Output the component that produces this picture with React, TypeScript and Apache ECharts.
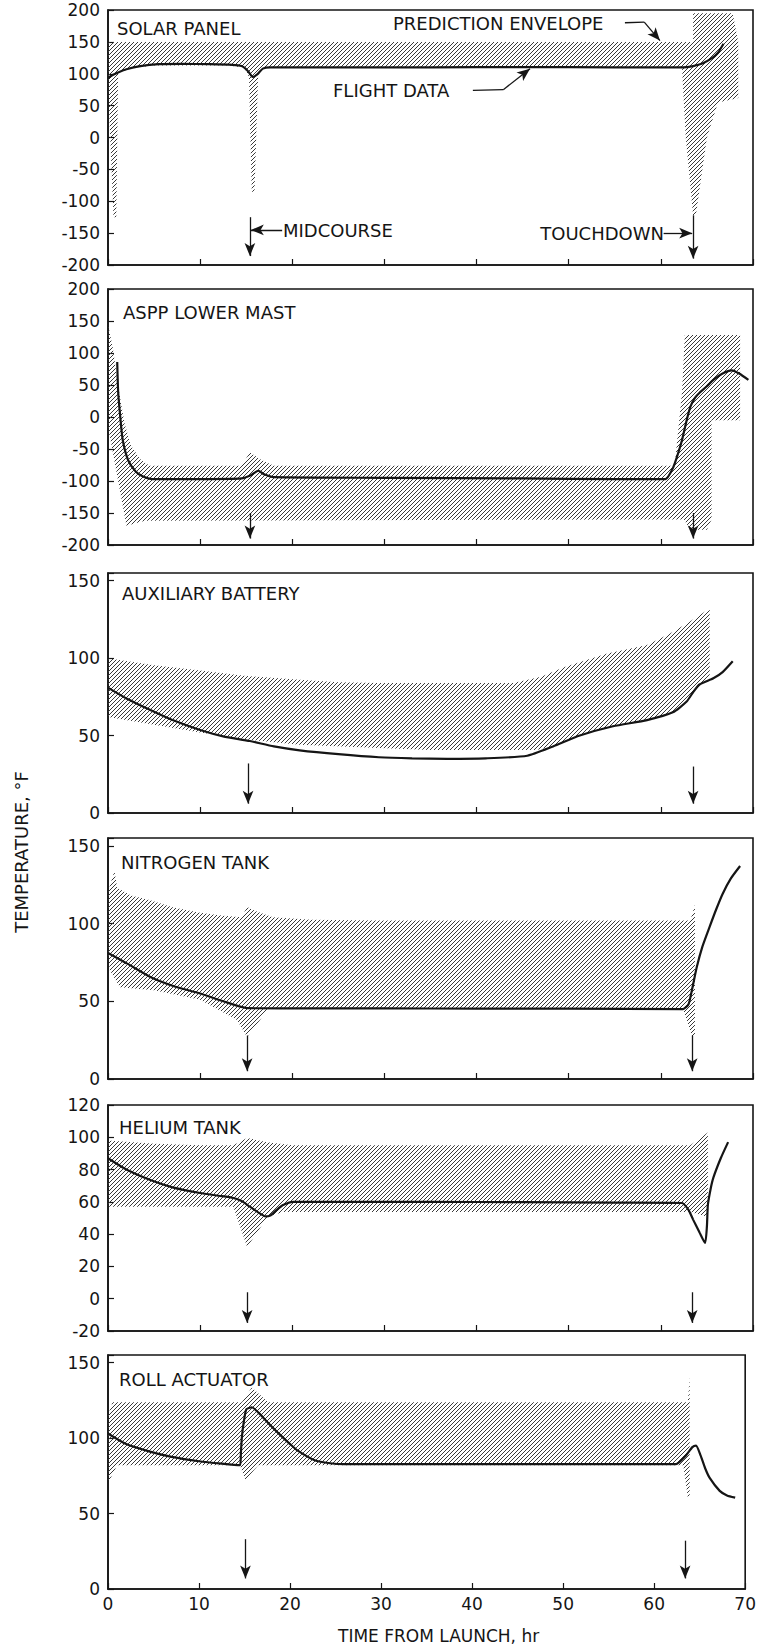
import React, { useEffect, useRef } from 'react';
import * as echarts from 'echarts';

// ---------------- DATA ----------------
const panelTitles = ['SOLAR PANEL', 'ASPP LOWER MAST', 'AUXILIARY BATTERY', 'NITROGEN TANK', 'HELIUM TANK', 'ROLL ACTUATOR'];
const yMins = [-200, -200, 0, 0, -20, 0];
const yMaxs = [200, 200, 155, 155, 120, 155];
const yIntervals = [50, 50, 50, 50, 20, 50];
const xAxisTitle = 'TIME FROM LAUNCH, hr';
const yAxisTitle = 'TEMPERATURE, °F';

// flight data [hr, °F]
const solarFlight = [[0, 93], [0.5, 98], [1.1, 102], [2, 107], [3.5, 112], [5.5, 115], [8, 115.5], [11, 115], [13.5, 114], [14.5, 112], [15.2, 104], [15.7, 95], [16.2, 99], [16.8, 108], [17.6, 110], [25, 110], [35, 110], [45, 110.5], [55, 110], [62.4, 110], [63.5, 112], [64.5, 116], [65.5, 124], [66.2, 133], [66.8, 147]];
const asppFlight = [[1.0, 86], [1.1, 40], [1.3, 5], [1.6, -36], [2.2, -68], [3, -85], [3.8, -93], [4.8, -97], [10, -97], [14.5, -96], [15.5, -91], [16.3, -84], [17, -90], [18, -94], [30, -95], [45, -96], [55, -97], [60.5, -97], [61.3, -80], [61.8, -60], [62.3, -36], [62.8, -5], [63.2, 16], [63.7, 30], [64.2, 38], [65, 48], [65.7, 58], [66.7, 68], [67.7, 73], [68.5, 68], [69.5, 58]];
const auxFlight = [[0, 81], [2, 74], [4.6, 66.5], [7, 60], [10, 53.6], [12.5, 49.5], [15.4, 46.5], [18, 43], [20.8, 40.5], [25, 38], [29.4, 36], [33, 35.3], [36.8, 35], [41, 35.3], [45.5, 37], [48.3, 43], [51.2, 50], [54.8, 56], [58.5, 60], [61.3, 65], [62.8, 72], [63.5, 78], [64.2, 83], [65.7, 87], [66.7, 91], [67.8, 98]];
const nitroFlight = [[0, 81], [2, 74.5], [4.6, 65.6], [7, 60], [10, 55], [12.5, 50], [15.1, 45.6], [20, 45.4], [30, 45.4], [40, 45.3], [50, 45.2], [62.4, 45], [63, 48], [63.4, 58], [63.9, 72], [64.5, 85], [65.3, 98], [66, 109], [66.7, 119], [67.6, 129], [68.6, 137]];
const heliumFlight = [[0, 87], [2, 80], [4.6, 73.5], [7, 69], [10, 65.5], [12, 63.8], [13.6, 62.4], [14.5, 60.5], [15.4, 57], [16.3, 53.5], [17.1, 51], [17.6, 51.5], [18.3, 55], [19, 58], [20.1, 60], [25, 60], [35, 60], [45, 59.8], [55, 59.5], [62.3, 59.3], [63, 55], [63.5, 49], [64.2, 41], [64.8, 34.5], [65, 45], [65.1, 58], [65.4, 68], [65.7, 75], [66.5, 87], [67.3, 97]];
const rollFlight = [[0, 103], [2, 96], [4.6, 91], [7, 87.5], [10, 84.6], [12.5, 83], [14.5, 82], [14.6, 90], [14.7, 100], [14.9, 110], [15.2, 119], [15.8, 120.4], [16.5, 117], [17.2, 112.6], [18, 107.5], [19, 101.6], [20, 96], [20.8, 91.8], [22.7, 85.3], [24.4, 83.3], [26, 82.7], [40, 82.7], [55, 82.7], [62.4, 82.7], [63.5, 88.5], [64.2, 94], [64.6, 95], [65.1, 88.5], [65.6, 80], [66.1, 73.6], [67.2, 65], [68, 62], [68.9, 60.5]];

// prediction envelopes: outline vertices [hr, °F]
const solarEnvelope = [[0, 150], [63.5, 150], [63.5, 195], [67.8, 195], [68.4, 150], [68.4, 62], [66.2, 55], [65, 0], [63.8, -122], [63.5, -122], [62.7, 0], [62.4, 80], [62.3, 110], [17, 110], [16.3, 100], [15.9, -85], [15.6, -85], [15.3, 95], [14.8, 110], [13, 113], [5, 113], [2, 108], [1.1, 102], [0.9, -125], [0.6, -125], [0, 85]];
const asppEnvelope = [[0, 145], [0.5, 110], [1.2, 40], [1.8, -10], [2.5, -45], [3.5, -66], [4.5, -76], [14.5, -76], [15.4, -55], [16.5, -66], [18, -76], [61.5, -76], [62.3, 40], [62.6, 128], [68.6, 128], [68.6, -5], [65.5, -5], [65.5, -160], [65, -176], [63.2, -176], [62.5, -160], [4, -162], [2, -170], [0.2, -30], [0, -20]];
const auxEnvelope = [[0, 100], [5, 95.5], [10, 92], [15, 88.5], [20.8, 86], [25, 84.5], [29.4, 84], [44, 84], [47, 88], [49.4, 94], [52, 99], [54.2, 103], [58.5, 108.5], [61, 116], [63, 123], [65.3, 132], [65.3, 88], [64.2, 83], [62.8, 72], [61.3, 65], [58.5, 60], [54.8, 56], [51.2, 50], [48.3, 43], [46.5, 40.7], [35, 40.7], [29.4, 42], [20.8, 44], [15, 47.5], [10, 52], [5, 57], [0, 62]];
const nitroEnvelope = [[0, 120], [0.7, 134], [1, 123], [2.5, 118], [4.6, 115], [7, 110.5], [10, 107], [12.5, 105], [14.5, 104], [15.1, 110.6], [16, 108], [17.9, 104], [22, 102.5], [29.4, 102], [63.2, 102], [63.7, 112], [63.7, 27], [63.4, 27], [62.4, 45], [17.3, 45], [16.5, 38], [15.1, 27], [14, 38], [10, 51], [5, 57], [1.3, 59], [0.2, 70], [0, 80]];
const heliumEnvelope = [[0, 98], [5, 96], [10, 95], [13.6, 95], [15.1, 99.5], [17.3, 97], [20, 95], [63.2, 95], [65.1, 103], [65.1, 50.6], [63.2, 53.7], [19, 53.7], [17.3, 50.6], [15.1, 32], [14.5, 42], [13.6, 57], [0, 57]];
const rollEnvelope = [[0, 115], [0.5, 123.7], [14.7, 123.7], [15.8, 133.4], [17.6, 123.7], [63.7, 123.7], [63.9, 140.6], [63.9, 60.5], [63.7, 60.5], [63.2, 82], [16.5, 82], [15.1, 72], [14.5, 82], [1, 82], [0, 70]];

// event arrows [hr, from °F, to °F]
const solarArrows = [[15.4, -125, -186], [63.5, -122, -190]];
const asppArrows = [[15.4, -150, -190], [63.5, -150, -190]];
const auxArrows = [[15.2, 32, 6], [63.5, 30, 6]];
const nitroArrows = [[15.1, 28, 5], [63.4, 28, 5]];
const heliumArrows = [[15.1, 4, -15], [63.4, 4, -15]];
const rollArrows = [[15.1, 33, 7], [63.4, 32, 7]];

// annotation pointers in the top panel [x1, y1, x2, y2, arrowhead]
const solarPointers = [
  [18.9, -145, 15.5, -145, 1],
  [60.3, -150, 63.4, -150, 1],
  [56.1, 180, 58.2, 181, 0],
  [58.2, 181, 59.9, 152, 1],
  [39.6, 74, 42.9, 75, 0],
  [42.9, 75, 45.8, 108, 1],
];

const flights = [solarFlight, asppFlight, auxFlight, nitroFlight, heliumFlight, rollFlight];
const envelopes = [solarEnvelope, asppEnvelope, auxEnvelope, nitroEnvelope, heliumEnvelope, rollEnvelope];
const arrows = [solarArrows, asppArrows, auxArrows, nitroArrows, heliumArrows, rollArrows];

// ---------------- LAYOUT ----------------
const W = 759;
const H = 1645;
const gridLeft = 108;
const gridWidth = 645;
const gridTops = [10, 289, 573, 838, 1105, 1355];
const gridHeights = [255, 256, 240, 241, 226, 238];
const titlePos = [[117, 28], [123, 312], [122, 593], [121, 862], [119, 1127], [119, 1379]];
const annotations = [
  { text: 'PREDICTION ENVELOPE', x: 393, y: 23, align: 'left' },
  { text: 'FLIGHT DATA', x: 333, y: 90, align: 'left' },
  { text: 'MIDCOURSE', x: 283, y: 230, align: 'left' },
  { text: 'TOUCHDOWN', x: 664, y: 233, align: 'right' },
];
const FONT = '"DejaVu Sans", "Liberation Sans", sans-serif';
const INK = '#151515';

function makeHatch(): string {
  const c = document.createElement('canvas');
  c.width = 4;
  c.height = 4;
  const g = c.getContext('2d')!;
  g.strokeStyle = '#3a3a3a';
  g.lineWidth = 1;
  g.beginPath();
  g.moveTo(-1, 5); g.lineTo(5, -1);
  g.moveTo(-1, 1); g.lineTo(1, -1);
  g.moveTo(3, 5); g.lineTo(5, 3);
  g.stroke();
  return c.toDataURL('image/png');
}

export default function App() {
  const ref = useRef<HTMLDivElement>(null);
  useEffect(() => {
    if (!ref.current) return;
    const chart = echarts.init(ref.current, undefined, { renderer: 'svg', width: W, height: H });
    const hatchFill: any = { image: makeHatch(), repeat: 'repeat', imageWidth: 4, imageHeight: 4 };

    const grids: any[] = [];
    const xAxes: any[] = [];
    const yAxes: any[] = [];
    const series: any[] = [];

    for (let i = 0; i < 6; i++) {
      const last = i === 5;
      grids.push({
        left: gridLeft, width: gridWidth, top: gridTops[i], height: gridHeights[i],
        show: true, borderColor: INK, borderWidth: 1.6, backgroundColor: 'transparent',
      });
      xAxes.push({
        type: 'value', gridIndex: i, min: 0, max: 70, interval: 10,
        axisLine: { show: true, onZero: false, lineStyle: { color: INK, width: 1.6 } },
        axisTick: { show: true, inside: true, length: 6, lineStyle: { color: INK, width: 1.2 } },
        axisLabel: { show: last, margin: 6, color: INK, fontSize: 17, fontFamily: FONT },
        splitLine: { show: false },
        name: last ? xAxisTitle : '',
        nameLocation: 'middle', nameGap: 38,
        nameTextStyle: { color: INK, fontSize: 17, fontFamily: FONT, padding: [0, 0, 0, 24] },
      });
      const iv = yIntervals[i];
      yAxes.push({
        type: 'value', gridIndex: i, min: yMins[i], max: yMaxs[i], interval: iv,
        axisLine: { show: true, onZero: false, lineStyle: { color: INK, width: 1.6 } },
        axisTick: { show: true, inside: true, length: 6, lineStyle: { color: INK, width: 1.2 } },
        axisLabel: {
          margin: 8, color: INK, fontSize: 17, fontFamily: FONT,
          formatter: (v: number) => (Math.abs(v % iv) < 1e-9 ? String(v) : ''),
        },
        splitLine: { show: false },
      });
      const env = envelopes[i];
      series.push({
        type: 'custom', xAxisIndex: i, yAxisIndex: i, silent: true, z: 1,
        data: [[0, yMins[i]]],
        renderItem: (_p: any, api: any) => ({
          type: 'polygon',
          shape: { points: env.map((pt) => api.coord(pt)) },
          style: { fill: hatchFill, stroke: null },
        }),
      });
      const mlData: any[] = arrows[i].map((a) => [
        { coord: [a[0], a[1]], symbol: 'none' },
        { coord: [a[0], a[2]], symbol: 'arrow' },
      ]);
      if (i === 0) {
        solarPointers.forEach((p) => {
          mlData.push([
            { coord: [p[0], p[1]], symbol: 'none' },
            { coord: [p[2], p[3]], symbol: p[4] ? 'arrow' : 'none' },
          ]);
        });
      }
      series.push({
        type: 'line', xAxisIndex: i, yAxisIndex: i, z: 3,
        data: flights[i], showSymbol: false, smooth: 0.2, silent: true,
        lineStyle: { color: INK, width: 2.2 },
        markLine: {
          silent: true, symbol: ['none', 'arrow'], symbolSize: [8, 13],
          label: { show: false },
          lineStyle: { color: INK, width: 1.3, type: 'solid' },
          data: mlData,
        },
      });
    }

    const graphics: any[] = panelTitles.map((t, i) => ({
      type: 'text', x: titlePos[i][0], y: titlePos[i][1], silent: true,
      style: { text: t, font: `18px ${FONT}`, fill: INK, align: 'left', verticalAlign: 'middle' },
    }));
    annotations.forEach((a) => {
      graphics.push({
        type: 'text', x: a.x, y: a.y, silent: true,
        style: { text: a.text, font: `18px ${FONT}`, fill: INK, align: a.align, verticalAlign: 'middle' },
      });
    });
    graphics.push({
      type: 'text', x: 21, y: 852, rotation: Math.PI / 2, silent: true,
      style: { text: yAxisTitle, font: `18px ${FONT}`, fill: INK, align: 'center', verticalAlign: 'middle' },
    });

    chart.setOption({
      animation: false,
      backgroundColor: '#ffffff',
      grid: grids,
      xAxis: xAxes,
      yAxis: yAxes,
      series,
      graphic: graphics,
    });
    return () => chart.dispose();
  }, []);
  return <div ref={ref} style={{ position: 'absolute', left: 0, top: 0, width: W, height: H }} />;
}
